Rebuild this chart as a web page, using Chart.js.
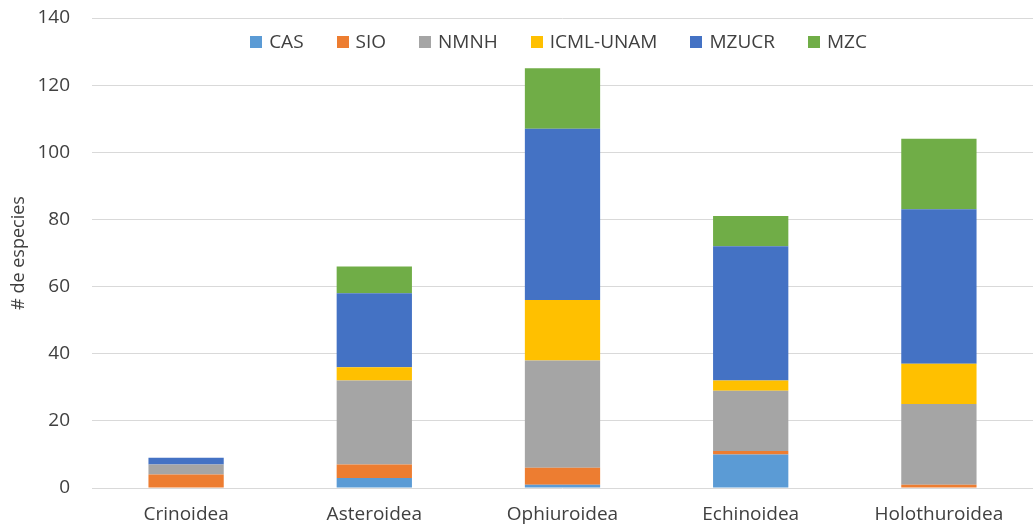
<!DOCTYPE html>
<html>
<head>
<meta charset="utf-8">
<title># de especies por clase</title>
<script src="https://cdn.jsdelivr.net/npm/chart.js@4.4.1/dist/chart.umd.min.js"></script>
<style>
  html, body { margin: 0; padding: 0; background: #ffffff; }
  #wrap { width: 1033px; height: 526px; position: relative; }
</style>
</head>
<body>
<div id="wrap"><canvas id="chart" width="1033" height="526"></canvas></div>
<script>
// Classes of Echinodermata (x axis)
const categories = ['Crinoidea', 'Asteroidea', 'Ophiuroidea', 'Echinoidea', 'Holothuroidea'];

// Number of species per collection, one value per class
const cas   = [0, 3, 1, 10, 0];
const sio   = [4, 4, 5, 1, 1];
const nmnh  = [3, 25, 32, 18, 24];
const icml  = [0, 4, 18, 3, 12];
const mzucr = [2, 22, 51, 40, 46];
const mzc   = [0, 8, 18, 9, 21];

// Collection names and their colours
const seriesNames  = ['CAS', 'SIO', 'NMNH', 'ICML-UNAM', 'MZUCR', 'MZC'];
const seriesColors = ['#5B9BD5', '#ED7D31', '#A5A5A5', '#FFC000', '#4472C4', '#70AD47'];

// Y axis range and tick step
const yMin = 0;
const yMax = 140;
const yStep = 20;

const FONT = "'Open Sans', 'Noto Sans', sans-serif";
const TEXT = '#404040';

const seriesValues = [cas, sio, nmnh, icml, mzucr, mzc];

// Legend drawn inside the plot area, centred along its top
const insideLegend = {
  id: 'insideLegend',
  afterDraw(chart, args, opts) {
    const { ctx, chartArea } = chart;
    ctx.save();
    ctx.font = opts.fontSize + 'px ' + FONT;
    ctx.textBaseline = 'middle';
    ctx.textAlign = 'left';
    const items = chart.data.datasets.map(ds => ({
      text: ds.label,
      color: ds.backgroundColor,
      w: opts.box + opts.textGap + ctx.measureText(ds.label).width
    }));
    const total = items.reduce((s, it) => s + it.w, 0) + opts.gap * (items.length - 1);
    let x = (chartArea.left + chartArea.right) / 2 - total / 2 + opts.shiftX;
    const y = chartArea.top + opts.offsetY;
    items.forEach(it => {
      ctx.fillStyle = it.color;
      ctx.fillRect(Math.round(x), Math.round(y - opts.box / 2), opts.box, opts.box);
      ctx.fillStyle = TEXT;
      ctx.fillText(it.text, x + opts.box + opts.textGap, y + 1);
      x += it.w + opts.gap;
    });
    ctx.restore();
  }
};

new Chart(document.getElementById('chart'), {
  type: 'bar',
  data: {
    labels: categories,
    datasets: seriesNames.map((name, i) => ({
      label: name,
      data: seriesValues[i],
      backgroundColor: seriesColors[i],
      borderWidth: 0,
      barPercentage: 0.4,
      categoryPercentage: 1.0
    }))
  },
  options: {
    responsive: false,
    devicePixelRatio: 1,
    animation: false,
    layout: { padding: { top: 18, right: 0, bottom: 0, left: 0 } },
    plugins: {
      legend: { display: false },
      tooltip: { enabled: false },
      insideLegend: { fontSize: 19, box: 12, textGap: 7, gap: 33, offsetY: 24, shiftX: -4 }
    },
    scales: {
      x: {
        stacked: true,
        grid: { display: false, drawTicks: false },
        border: { display: false },
        ticks: { color: TEXT, font: { family: FONT, size: 19 }, padding: 15, maxRotation: 0 },
        afterFit(scale) { scale.height = 38; }
      },
      y: {
        stacked: true,
        min: yMin,
        max: yMax,
        grid: { color: '#D9D9D9', lineWidth: 1, drawTicks: false },
        border: { display: false },
        ticks: { stepSize: yStep, color: TEXT, font: { family: FONT, size: 19 }, padding: 22 },
        title: {
          display: true,
          text: '# de especies',
          color: TEXT,
          font: { family: FONT, size: 18 },
          padding: { top: 8, bottom: 0 }
        },
        afterFit(scale) {
          scale.width = 92;
          scale.paddingTop = 0;
          scale.paddingBottom = 0;
        }
      }
    }
  },
  plugins: [insideLegend]
});
</script>
</body>
</html>
